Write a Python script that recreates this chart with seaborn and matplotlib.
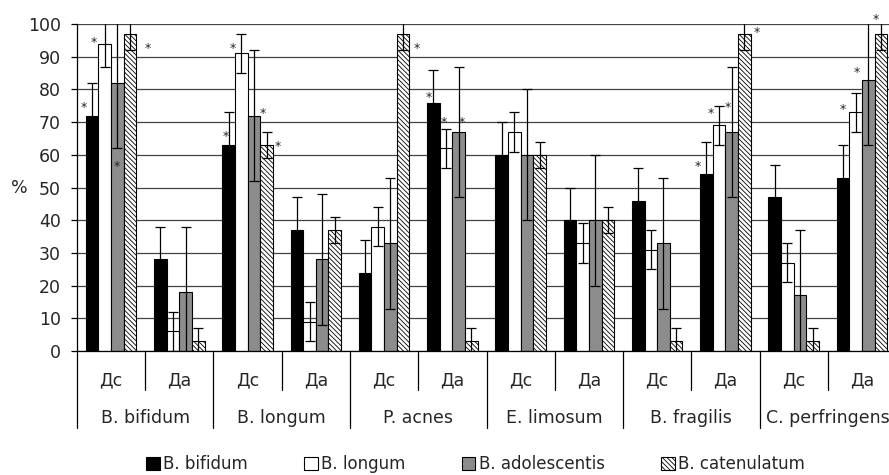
import numpy as np
import pandas as pd
import seaborn as sns
import matplotlib.pyplot as plt
import matplotlib.patches as mpatches
import matplotlib.transforms as mtransforms

# categories on the x axis
groups = ['B. bifidum', 'B. longum', 'P. acnes', 'E. limosum', 'B. fragilis', 'C. perfringens']
subgroups = ['Дс', 'Да']
series = ['B. bifidum', 'B. longum', 'B. adolescentis', 'B. catenulatum']

# values (%) per x position
bifidum = [72, 28, 63, 37, 24, 76, 60, 40, 46, 54, 47, 53]
longum = [94, 6, 91, 9, 38, 62, 67, 33, 31, 69, 27, 73]
adolescentis = [82, 18, 72, 28, 33, 67, 60, 40, 33, 67, 17, 83]
catenulatum = [97, 3, 63, 37, 97, 3, 60, 40, 3, 97, 3, 97]

bifidum_err = [10, 10, 10, 10, 10, 10, 10, 10, 10, 10, 10, 10]
longum_err = [7, 6, 6, 6, 6, 6, 6, 6, 6, 6, 6, 6]
adolescentis_err = [20, 20, 20, 20, 20, 20, 20, 20, 20, 20, 20, 20]
catenulatum_err = [5, 4, 4, 4, 5, 4, 4, 4, 4, 5, 4, 5]

# asterisks: x position index, offset within the group, height
star_pos = [0, 0, 0, 0, 2, 2, 2, 2, 4, 5, 5, 5, 9, 9, 9, 9, 11, 11, 11]
star_dx = [-0.40, -0.26, 0.09, 0.53, -0.32, -0.22, 0.22, 0.44, 0.48,
           -0.35, -0.13, 0.14, -0.41, -0.21, 0.04, 0.46, -0.28, -0.07, 0.21]
star_y = [76, 96, 58, 94, 67, 94, 74, 64, 94, 79, 71.5, 71.5, 58, 74, 76, 99, 75.5, 86.6, 103]

colors = ['black', 'white', '#8c8c8c', 'white']
hatches = [None, None, None, '\\\\\\\\\\\\\\']

sns.set_style('white')
plt.rcParams['font.family'] = ['DejaVu Sans']
plt.rcParams['hatch.linewidth'] = 0.6

xcats = [f'{g} {s}' for g in groups for s in subgroups]
df = pd.DataFrame({
    'x': xcats * 4,
    'series': np.repeat(series, len(xcats)),
    'value': bifidum + longum + adolescentis + catenulatum,
})
errs = [bifidum_err, longum_err, adolescentis_err, catenulatum_err]

fig = plt.figure(figsize=(8.89, 4.75), dpi=100)
ax = fig.add_axes([0.0866, 0.261, 0.9213, 0.6884])

sns.barplot(data=df, x='x', y='value', hue='series', order=xcats, hue_order=series,
            palette=colors, saturation=1, edgecolor='black', linewidth=0.8,
            width=0.74, errorbar=None, legend=False, ax=ax)

for cont, err, h in zip(ax.containers, errs, hatches):
    xs = [p.get_x() + p.get_width() / 2 for p in cont.patches]
    ys = [p.get_height() for p in cont.patches]
    if h:
        for p in cont.patches:
            p.set_hatch(h)
    ax.errorbar(xs, ys, yerr=err, fmt='none', ecolor='black', elinewidth=0.9,
                capsize=3.8, capthick=0.9, zorder=5)

for p, dx, y in zip(star_pos, star_dx, star_y):
    ax.text(p + dx, y - 1.5, '*', ha='center', va='center', fontsize=9, clip_on=False)

ax.set_xlim(-0.5, len(xcats) - 0.5)
ax.set_ylim(0, 100)
ax.set_yticks(range(0, 101, 10))
ax.set_xticks([])
ax.set_xlabel('')
ax.set_ylabel('%', rotation=0, va='center', ha='center', fontsize=12.5)
ax.yaxis.set_label_coords(-0.07, 0.5)
ax.tick_params(axis='y', left=True, length=4.5, width=0.9, color='black', labelsize=12.5, pad=7)
ax.grid(axis='y', color='#444444', linewidth=0.9)
ax.set_axisbelow(True)
for s in ['top', 'right']:
    ax.spines[s].set_visible(False)
for s in ['left', 'bottom']:
    ax.spines[s].set_color('black')
    ax.spines[s].set_linewidth(0.9)

# two-level x axis labels
trans = mtransforms.blended_transform_factory(ax.transData, ax.transAxes)
for i, lab in enumerate(xcats):
    ax.text(i, -0.089, lab.split(' ')[-1], transform=trans, ha='center', va='center', fontsize=12.5)
for j, g in enumerate(groups):
    ax.text(2 * j + 0.5, -0.205, g, transform=trans, ha='center', va='center', fontsize=12.5)
    ax.plot([2 * j - 0.5] * 2, [0, -0.235], transform=trans, color='black', lw=0.9, clip_on=False)
    ax.plot([2 * j + 0.5] * 2, [0, -0.119], transform=trans, color='black', lw=0.9, clip_on=False)

handles = [mpatches.Patch(facecolor=c, edgecolor='black', hatch=h, linewidth=0.8, label=s)
           for c, h, s in zip(colors, hatches, series)]
fig.legend(handles=handles, loc='center', bbox_to_anchor=(0.535, 0.023), ncol=4, frameon=False,
           fontsize=12, handlelength=0.8, handleheight=0.8, handletextpad=0.2, columnspacing=3.4)

fig.savefig('out.png', dpi=100)
